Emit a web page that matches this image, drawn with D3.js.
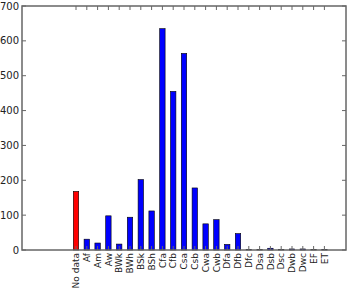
<!DOCTYPE html>
<html>
<head>
<meta charset="utf-8">
<script src="https://cdn.jsdelivr.net/npm/d3@7"></script>
<style>
  body { margin: 0; background: #fff; }
  text { font-family: "DejaVu Sans", sans-serif; }
</style>
</head>
<body>
<div id="chart"></div>
<script>
// climate classes and counts
var categories = ['No data', 'Af', 'Am', 'Aw', 'BWk', 'BWh', 'BSk', 'BSh', 'Cfa', 'Cfb', 'Csa', 'Csb',
  'Cwa', 'Cwb', 'Dfa', 'Dfb', 'Dfc', 'Dsa', 'Dsb', 'Dsc', 'Dwb', 'Dwc', 'EF', 'ET'];
var counts = [168, 31, 20, 98, 17, 94, 202, 112, 635, 455, 564, 178,
  75, 87, 16, 47, 2, 1, 5, 2, 3, 3, 1, 2];
var yTicks = [0, 100, 200, 300, 400, 500, 600, 700];

var width = 350, height = 289;
var plotL = 22, plotR = 346, plotT = 6, plotB = 250;

var svg = d3.select('#chart').append('svg')
  .attr('width', width)
  .attr('height', height);

var x = d3.scaleLinear().domain([-5, 25]).range([plotL, plotR]);
var y = d3.scaleLinear().domain([0, 700]).range([plotB, plotT]);
var barW = x(0.5) - x(0);

// bars
svg.selectAll('rect.bar')
  .data(counts)
  .enter()
  .append('rect')
  .attr('class', 'bar')
  .attr('x', (d, i) => x(i) - barW / 2)
  .attr('y', d => y(d))
  .attr('width', barW)
  .attr('height', d => y(0) - y(d))
  .attr('fill', (d, i) => i === 0 ? '#ff0000' : '#0000ff')
  .attr('stroke', '#000')
  .attr('stroke-width', 0.6);

var axisColor = '#666';

// y ticks, left and right (inward)
yTicks.forEach(function(t) {
  svg.append('line').attr('x1', plotL).attr('x2', plotL + 4)
    .attr('y1', y(t)).attr('y2', y(t)).attr('stroke', axisColor);
  svg.append('line').attr('x1', plotR).attr('x2', plotR - 4)
    .attr('y1', y(t)).attr('y2', y(t)).attr('stroke', axisColor);
  svg.append('text')
    .attr('x', plotL - 3)
    .attr('y', y(t))
    .attr('dy', '0.35em')
    .attr('text-anchor', 'end')
    .attr('font-size', 10)
    .attr('fill', '#222')
    .text(t);
});

// x ticks, bottom and top (inward)
categories.forEach(function(c, i) {
  svg.append('line').attr('x1', x(i)).attr('x2', x(i))
    .attr('y1', plotB).attr('y2', plotB - 4).attr('stroke', axisColor);
  svg.append('line').attr('x1', x(i)).attr('x2', x(i))
    .attr('y1', plotT).attr('y2', plotT + 4).attr('stroke', axisColor);
  svg.append('text')
    .attr('transform', `translate(${x(i)},${plotB + 3}) rotate(-90)`)
    .attr('dy', '0.35em')
    .attr('text-anchor', 'end')
    .attr('font-size', 9)
    .attr('fill', '#222')
    .text(c);
});

// frame
svg.append('rect')
  .attr('x', plotL).attr('y', plotT)
  .attr('width', plotR - plotL).attr('height', plotB - plotT)
  .attr('fill', 'none')
  .attr('stroke', axisColor)
  .attr('stroke-width', 1.5);
</script>
</body>
</html>
